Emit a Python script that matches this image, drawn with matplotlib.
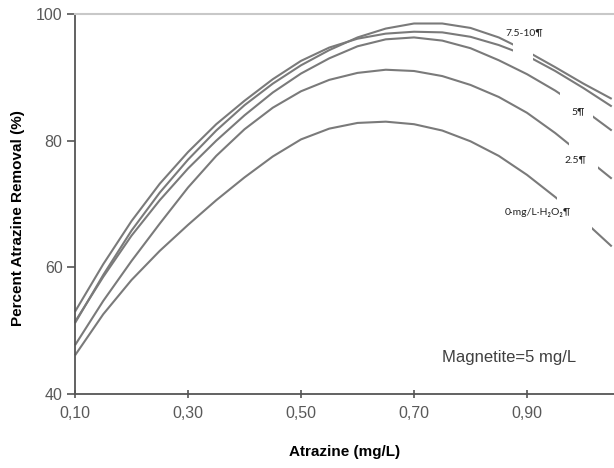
import numpy as np
import matplotlib
matplotlib.use("Agg")
import matplotlib.pyplot as plt
from matplotlib.patches import Rectangle

# ---- data ----
atrazine = [0.10, 0.15, 0.20, 0.25, 0.30, 0.35, 0.40, 0.45, 0.50, 0.55,
            0.60, 0.65, 0.70, 0.75, 0.80, 0.85, 0.90, 0.95, 1.00, 1.05]

h2o2_0 = [46.1, 52.6, 58.0, 62.6, 66.7, 70.6, 74.2, 77.5, 80.2, 81.9,
          82.8, 83.0, 82.6, 81.6, 79.9, 77.6, 74.6, 71.1, 67.4, 63.3]
h2o2_2_5 = [47.7, 54.7, 61.0, 66.9, 72.6, 77.6, 81.8, 85.2, 87.8, 89.6,
            90.7, 91.2, 91.0, 90.2, 88.8, 86.9, 84.4, 81.2, 77.6, 74.0]
h2o2_5 = [51.4, 58.5, 65.0, 70.6, 75.6, 80.0, 84.0, 87.6, 90.6, 93.0,
          94.9, 96.0, 96.3, 95.8, 94.6, 92.7, 90.5, 87.9, 84.9, 81.6]
h2o2_7_5 = [53.0, 60.5, 67.3, 73.2, 78.2, 82.6, 86.3, 89.7, 92.6, 94.7,
            96.1, 96.9, 97.2, 97.1, 96.4, 95.1, 93.4, 91.0, 88.3, 85.4]
h2o2_10 = [51.2, 58.8, 65.8, 71.8, 77.0, 81.6, 85.6, 89.0, 91.9, 94.3,
           96.3, 97.7, 98.5, 98.5, 97.8, 96.3, 94.1, 91.6, 89.0, 86.6]

series = [h2o2_0, h2o2_2_5, h2o2_5, h2o2_7_5, h2o2_10]
curve_labels = ["0\u00b7mg/L\u00b7H\u2082O\u2082\u00b6", "2.5\u00b6", "5\u00b6", "7.5-10\u00b6"]

x_ticks = [0.10, 0.30, 0.50, 0.70, 0.90]
x_ticklabels = ["0,10", "0,30", "0,50", "0,70", "0,90"]
y_ticks = [40, 60, 80, 100]

# ---- styling / layout ----
W, H = 614, 468
fig = plt.figure(figsize=(W / 100, H / 100), dpi=100)
ax = fig.add_axes([75 / W, (H - 394) / H, (W - 75) / W, 380 / H])
ax.set_xlim(0.10, 1.054)
ax.set_ylim(40, 100)

line_color = "#7a7a7a"
# gaps in each line where the labels sit (x ranges)
gaps = [(0.953, 1.015), (0.974, 1.026), (0.958, 1.017), (0.875, 0.91), (0.875, 0.91)]

for ys, (g0, g1) in zip(series, gaps):
    for (a, b) in [(0.0, g0), (g1, 2.0)]:
        ln, = ax.plot(atrazine, ys, color=line_color, lw=1.5,
                      solid_capstyle="butt", solid_joinstyle="round")
        clip = Rectangle((a, 0), b - a, 200, transform=ax.transData)
        ln.set_clip_path(clip)

label_font = ["Lato", "DejaVu Sans"]
ax.text(0.919, 68.7, curve_labels[0], fontsize=7.5, ha="center", va="center",
        family=label_font, color="#222222")
ax.text(0.985, 77.0, curve_labels[1], fontsize=7.5, ha="center", va="center",
        family=label_font, color="#222222")
ax.text(0.99, 84.5, curve_labels[2], fontsize=7.5, ha="center", va="center",
        family=label_font, color="#222222")
ax.text(0.896, 97.0, curve_labels[3], fontsize=7.5, ha="center", va="center",
        family=label_font, color="#222222")

ax.text(0.868, 45.8, "Magnetite=5 mg/L", fontsize=12, ha="center", va="center",
        family="Liberation Sans", color="#404040")

ax.set_xticks(x_ticks)
ax.set_xticklabels(x_ticklabels)
ax.set_yticks(y_ticks)
ax.tick_params(axis="x", direction="inout", length=6, width=1.2, color="#555555",
               labelsize=11.5, labelcolor="#595959", pad=6)
ax.tick_params(axis="y", direction="out", length=6, width=1.2, color="#555555",
               labelsize=11.5, labelcolor="#595959", pad=3)
for lab in ax.get_xticklabels() + ax.get_yticklabels():
    lab.set_family("Liberation Sans")

for s in ["left", "bottom"]:
    ax.spines[s].set_color("#555555")
    ax.spines[s].set_linewidth(1.3)
ax.spines["top"].set_color("#c8c8c8")
ax.spines["top"].set_linewidth(1.5)
ax.spines["right"].set_visible(False)

ax.set_xlabel("Atrazine (mg/L)", fontsize=11, fontweight="bold",
              family="Liberation Sans")
ax.set_ylabel("Percent Atrazine Removal (%)", fontsize=11, fontweight="bold",
              family="Liberation Sans")
ax.xaxis.set_label_coords(270 / (W - 75), -51 / 380)
ax.yaxis.set_label_coords(-50 / (W - 75), (394 - 218) / 380)

fig.savefig("out.png", dpi=100)
